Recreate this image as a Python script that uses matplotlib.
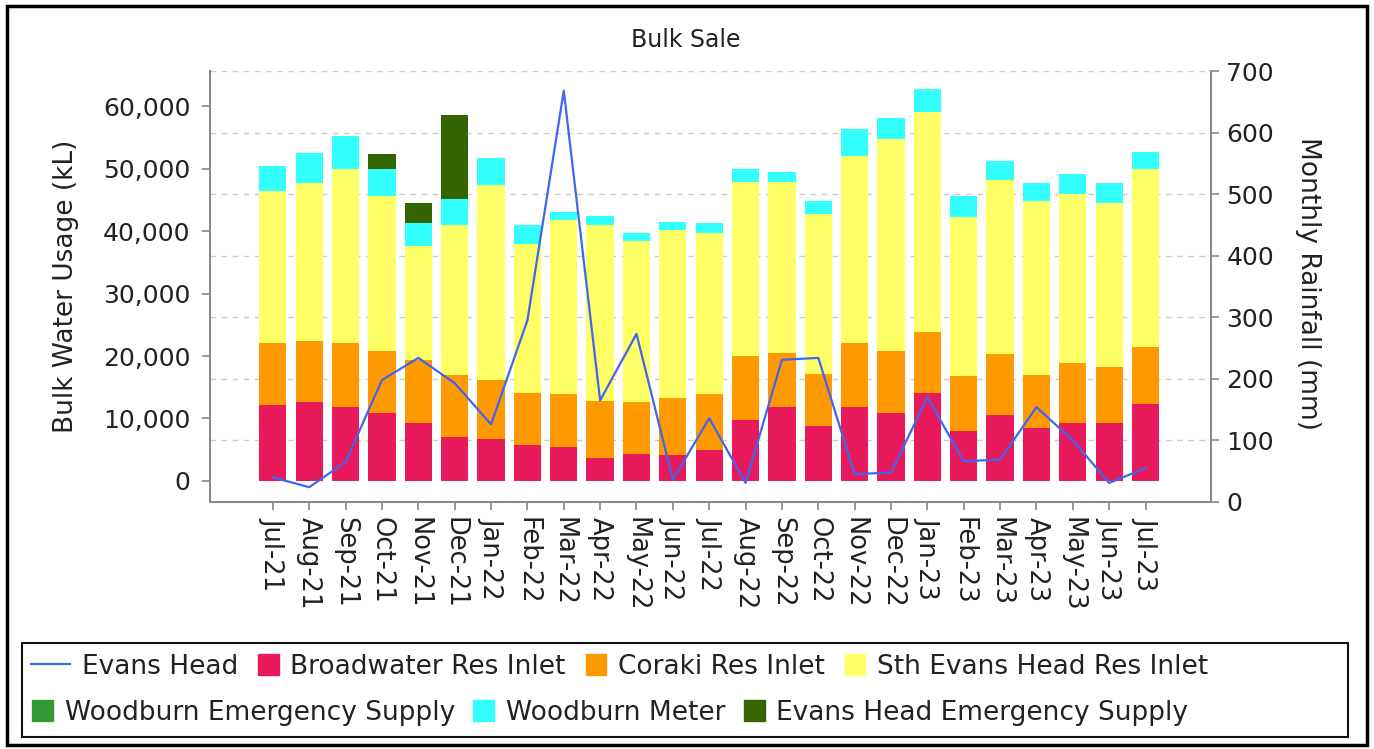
import numpy as np
import matplotlib
matplotlib.use("Agg")
import matplotlib.pyplot as plt
import matplotlib.patches as mpatches
from matplotlib.lines import Line2D
from matplotlib.legend_handler import HandlerPatch

# ---- data ----
months = ["Jul-21", "Aug-21", "Sep-21", "Oct-21", "Nov-21", "Dec-21", "Jan-22",
          "Feb-22", "Mar-22", "Apr-22", "May-22", "Jun-22", "Jul-22", "Aug-22",
          "Sep-22", "Oct-22", "Nov-22", "Dec-22", "Jan-23", "Feb-23", "Mar-23",
          "Apr-23", "May-23", "Jun-23", "Jul-23"]

broadwater = [12200, 12630, 11880, 10860, 9310, 7110, 6790, 5780, 5400, 3750,
              4280, 4120, 4920, 9680, 11830, 8830, 11830, 10960, 14070, 8030,
              10590, 8510, 9200, 9200, 12250]
coraki = [9900, 9840, 10220, 10010, 10110, 9790, 9420, 8350, 8560, 8980,
          8350, 9150, 9040, 10380, 8600, 8290, 10270, 9910, 9730, 8770,
          9690, 8450, 9740, 9050, 9150]
sth_evans = [24300, 25250, 27820, 24720, 18140, 24030, 31190, 23860, 27880, 28200,
             25780, 26910, 25740, 27820, 27400, 25580, 30010, 33860, 35270, 25470,
             27980, 27930, 27080, 26210, 28570]
woodburn_emerg = [0] * 25
woodburn_meter = [4000, 4770, 5350, 4330, 3740, 4170, 4340, 3050, 1230, 1450,
                  1290, 1230, 1660, 2150, 1720, 2190, 4180, 3420, 3690, 3370,
                  3050, 2780, 3100, 3320, 2630]
evans_emerg = [0, 0, 0, 2460, 3160, 13440, 0, 0, 0, 0,
               0, 0, 0, 0, 0, 0, 0, 0, 0, 0,
               0, 0, 0, 0, 0]
rainfall = [40, 24, 65, 198, 234, 193, 126, 295, 668, 165, 273, 36, 136, 31,
            231, 234, 45, 48, 170, 66, 69, 154, 100, 31, 55]

series = [
    ("Broadwater Res Inlet", broadwater, "#E91A5C"),
    ("Coraki Res Inlet", coraki, "#FF9900"),
    ("Sth Evans Head Res Inlet", sth_evans, "#FFFF66"),
    ("Woodburn Emergency Supply", woodburn_emerg, "#339933"),
    ("Woodburn Meter", woodburn_meter, "#33FFFF"),
    ("Evans Head Emergency Supply", evans_emerg, "#336600"),
]
line_color = "#3F66F0"

# ---- figure ----
plt.rcParams["font.family"] = ["DejaVu Sans"]
fig = plt.figure(figsize=(13.74, 7.49), dpi=100)
ax = fig.add_axes([0.1528, 0.3298, 0.7286, 0.5754])
ax2 = ax.twinx()

x = np.arange(len(months))
bottom = np.zeros(len(months))
for name, vals, col in series:
    vals = np.array(vals, dtype=float)
    ax.bar(x, vals, 0.75, bottom=bottom, color=col, label=name, zorder=2)
    bottom += vals

ax2.plot(x, rainfall, color=line_color, lw=1.6, zorder=5)

left_lim = (-3370, 65650)
ax.set_ylim(*left_lim)
ax2.set_ylim(0, 700)
ax.set_xlim(-1.73, 25.8)

# grid lines belong to the right-hand scale; draw them on the bar axes so bars sit on top
r_ticks = np.arange(100, 701, 100)
mapped = left_lim[0] + r_ticks / 700 * (left_lim[1] - left_lim[0])
ax.set_yticks(mapped, minor=True)
ax.tick_params(axis="y", which="minor", length=0)
ax.grid(which="minor", axis="y", color="#cccccc", linestyle=(0, (4, 4)), lw=1)
ax.set_axisbelow(True)

spine_col = "#888888"
for a in (ax, ax2):
    a.spines["top"].set_visible(False)
    for s in ("left", "right", "bottom"):
        a.spines[s].set_color(spine_col)
        a.spines[s].set_linewidth(1.3)

ax.set_yticks(np.arange(0, 60001, 10000))
ax.set_yticklabels([f"{v:,}" for v in range(0, 60001, 10000)])
ax.set_xticks(x)
ax.set_xticklabels(months, rotation=270, ha="center", va="top")
ax.tick_params(axis="y", which="major", direction="out", length=6, width=1.2,
               color=spine_col, labelsize=18, pad=8, labelcolor="#222222")
ax.tick_params(axis="x", direction="out", length=6, width=1.2, color=spine_col,
               labelsize=18.5, pad=5, labelcolor="#222222")
ax2.set_yticks(np.arange(0, 701, 100))
ax2.tick_params(axis="y", direction="out", length=6, width=1.2, color=spine_col,
                labelsize=18, pad=5, labelcolor="#222222")

fig.text(0.4993, 0.9466, "Bulk Sale", ha="center", va="center", fontsize=17,
         color="#222222")
fig.text(0.048, 0.618, "Bulk Water Usage (kL)", rotation=90, ha="center",
         va="center", fontsize=19, color="#222222")
fig.text(0.952, 0.621, "Monthly Rainfall (mm)", rotation=270, ha="center",
         va="center", fontsize=19, color="#222222")


# ---- legend: two rows inside one box ----
def square(legend, orig_handle, xdescent, ydescent, width, height, fontsize):
    return mpatches.Rectangle((width - height - xdescent, -ydescent), height, height)


sq = HandlerPatch(patch_func=square)
patches = [mpatches.Patch(color=c, label=n) for n, _, c in series]
row1 = [Line2D([], [], color=line_color, lw=1.6, label="Evans Head")] + patches[:3]
row2 = patches[3:]

leg1 = fig.legend(handles=row1, loc="center left", bbox_to_anchor=(0.0226, 0.1095),
                  ncol=4, frameon=False, fontsize=19, handlelength=1.48,
                  handleheight=0.83, handletextpad=0.45, columnspacing=0.05,
                  borderpad=0, borderaxespad=0,
                  handler_map={mpatches.Patch: sq})
leg2 = fig.legend(handles=row2, loc="center left", bbox_to_anchor=(0.0226, 0.0481),
                  ncol=3, frameon=False, fontsize=19, handlelength=0.83,
                  handleheight=0.83, handletextpad=0.45, columnspacing=0.65,
                  borderpad=0, borderaxespad=0,
                  handler_map={mpatches.Patch: sq})
for lg in (leg1, leg2):
    for t in lg.get_texts():
        t.set_color("#222222")

fig.add_artist(mpatches.Rectangle((0.016, 0.016), 0.965, 0.1255, transform=fig.transFigure,
                                  fill=False, ec="#111111", lw=1.5))
fig.add_artist(mpatches.Rectangle((0.0048, 0.006), 0.9902, 0.986, transform=fig.transFigure,
                                  fill=False, ec="black", lw=2.5))

fig.savefig("out.png", dpi=100)
